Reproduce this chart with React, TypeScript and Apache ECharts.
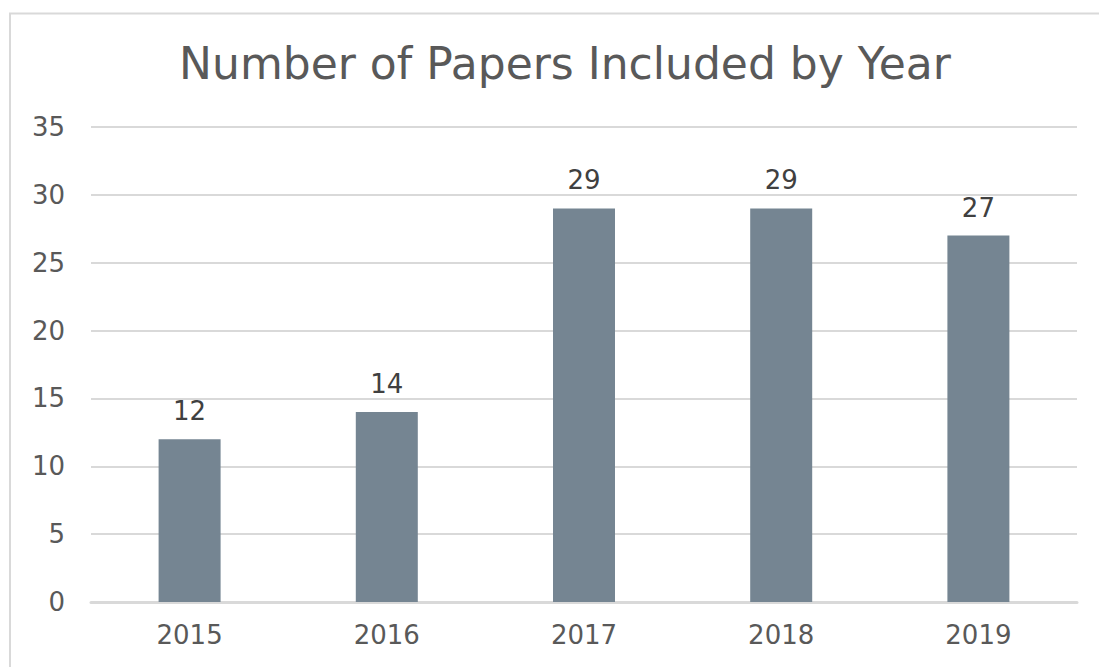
import React, { useEffect, useRef } from "react";
import * as echarts from "echarts";

const categories = ["2015", "2016", "2017", "2018", "2019"];
const papers = [12, 14, 29, 29, 27];
const titleText = "Number of Papers Included by Year";

export default function App() {
  const ref = useRef<HTMLDivElement>(null);
  useEffect(() => {
    const chart = echarts.init(ref.current!, null, { renderer: "svg" });
    const font = "'DejaVu Sans', Verdana, sans-serif";
    chart.setOption({
      animation: false,
      backgroundColor: "#ffffff",
      title: {
        text: titleText,
        left: 560,
        textAlign: "center",
        top: 36,
        textStyle: { fontFamily: font, fontSize: 44, fontWeight: "normal", color: "#595959" },
      },
      graphic: [
        {
          type: "polyline",
          shape: { points: [[10, 670], [10, 13.5], [1110, 13.5]] },
          style: { stroke: "#d9d9d9", lineWidth: 2, fill: "none" },
        },
      ],
      grid: { left: 91, right: 22, top: 127, bottom: 65, containLabel: false },
      xAxis: {
        type: "category",
        data: categories,
        axisLine: { show: true, lineStyle: { color: "#d9d9d9", width: 3 } },
        axisTick: { show: false },
        axisLabel: { fontFamily: font, fontSize: 26, color: "#595959", margin: 20 },
      },
      yAxis: {
        type: "value",
        min: 0,
        max: 35,
        interval: 5,
        axisLine: { show: false },
        axisTick: { show: false },
        splitLine: { lineStyle: { color: "#d9d9d9", width: 2 } },
        axisLabel: { fontFamily: font, fontSize: 26, color: "#595959", margin: 26 },
      },
      series: [
        {
          type: "bar",
          data: papers,
          barWidth: 62,
          itemStyle: { color: "#758592" },
          label: {
            show: true,
            position: "top",
            distance: 15,
            fontFamily: font,
            fontSize: 26,
            color: "#404040",
          },
        },
      ],
    });
    return () => chart.dispose();
  }, []);
  return (
    <div
      ref={ref}
      style={{ position: "fixed", left: 0, top: 0, width: 1099, height: 667 }}
    />
  );
}
